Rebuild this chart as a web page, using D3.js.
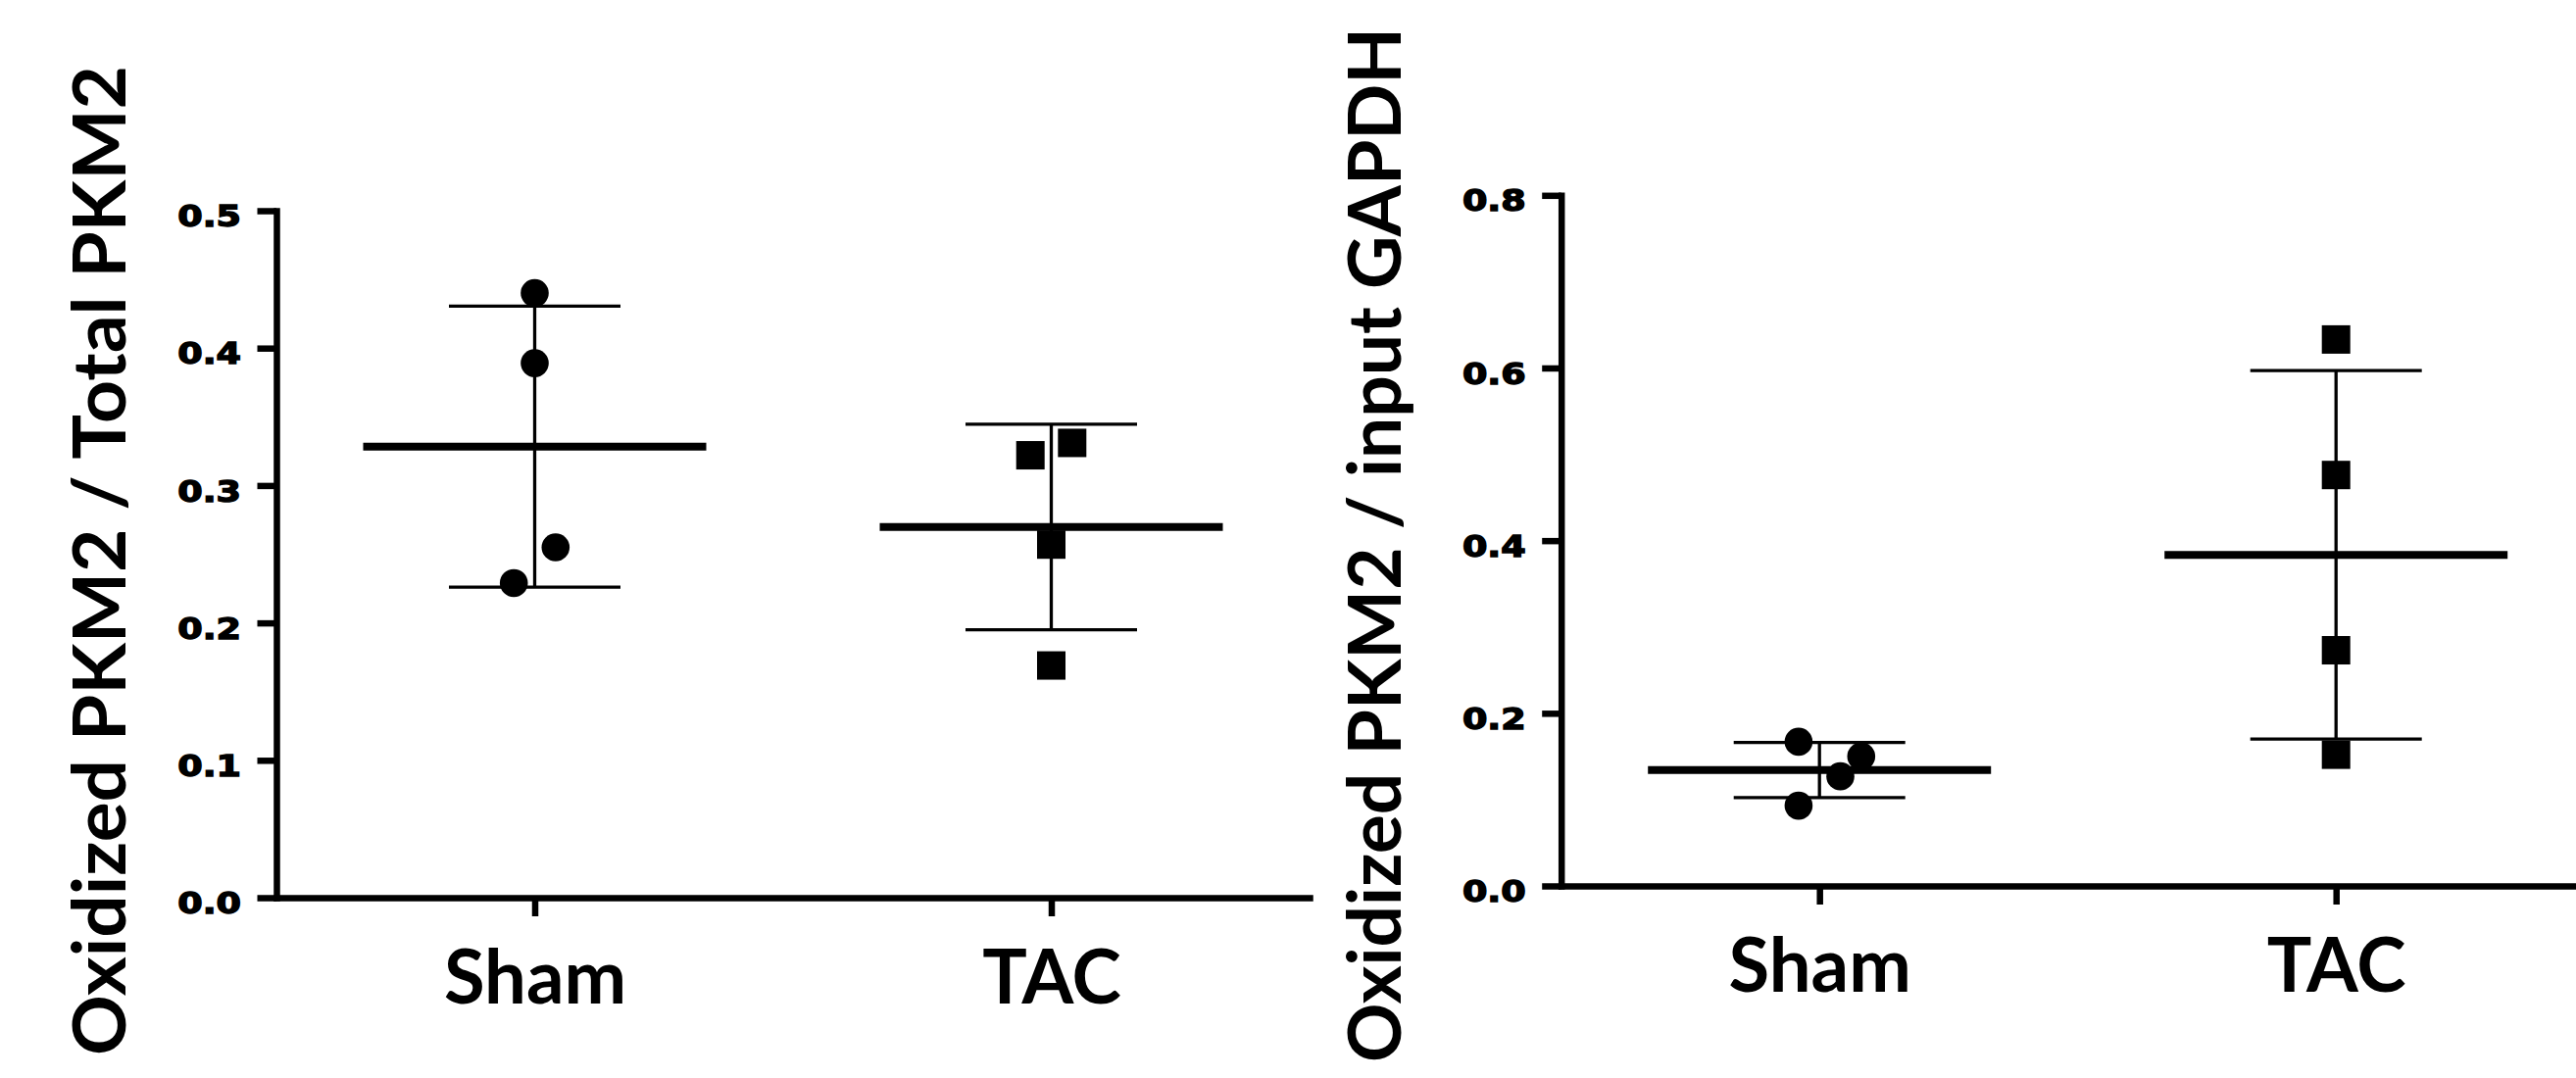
<!DOCTYPE html>
<html>
<head>
<meta charset="utf-8">
<script src="https://cdn.jsdelivr.net/npm/d3@7"></script>
<style>
  body { margin: 0; background: #fff; }
</style>
</head>
<body>
<svg id="chart"></svg>
<script>
const groups = ["Sham", "TAC"];

// Oxidized PKM2 / Total PKM2
const ratioSham = [0.440, 0.389, 0.255, 0.229];
const ratioTac = [0.322, 0.331, 0.257, 0.169];
const ratioTicks = [0, 0.1, 0.2, 0.3, 0.4, 0.5];

// Oxidized PKM2 / input GAPDH
const gapdhSham = [0.167, 0.150, 0.127, 0.093];
const gapdhTac = [0.633, 0.476, 0.273, 0.152];
const gapdhTicks = [0, 0.2, 0.4, 0.6, 0.8];

// sideways dodge of overlapping symbols (in slots), like the prism scatter
const ratioSlots = [[0, 0, 1, -1], [-1, 1, 0, 0]];
const gapdhSlots = [[-1, 2, 1, -1], [0, 0, 0, 0]];

class ScatterMeanSd {
  constructor(_config, _values, _slots) {
    this.config = {
      parentElement: _config.parentElement,
      axisX: _config.axisX,
      yTop: _config.yTop,
      yBottom: _config.yBottom,
      width: _config.width || 1054,
      yMax: _config.yMax,
      ticks: _config.ticks,
      title: _config.title,
      titleX: _config.titleX,
      titleY: _config.titleY,
      titleLength: _config.titleLength,
      symbols: _config.symbols,
      slotWidth: 21.3,
      meanHalf: 175,
      capHalf: 87.5,
    };
    this.values = _values;
    this.slots = _slots;
    this.initVis();
  }

  initVis() {
    let vis = this;
    const c = vis.config;

    vis.svg = d3.select(c.parentElement);
    vis.g = vis.svg.append("g");

    vis.y = d3.scaleLinear().domain([0, c.yMax]).range([c.yBottom, c.yTop]);
    vis.x = d3
      .scalePoint()
      .domain(groups)
      .range([c.axisX, c.axisX + c.width])
      .padding(0.5);

    // y axis
    vis.yAxisG = vis.g
      .append("g")
      .attr("transform", `translate(${c.axisX},0)`)
      .call(
        d3
          .axisLeft(vis.y)
          .tickValues(c.ticks)
          .tickFormat(d3.format(".1f"))
          .tickSize(19.5)
          .tickSizeOuter(0)
          .tickPadding(16),
      );

    // x axis
    vis.xAxisG = vis.g
      .append("g")
      .attr("transform", `translate(0,${c.yBottom})`)
      .call(d3.axisBottom(vis.x).tickSize(19).tickSizeOuter(0));

    vis.g.selectAll(".domain")
      .attr("stroke", "#000")
      .attr("stroke-width", 6.5)
      .attr("stroke-linecap", "square");
    vis.g.selectAll(".tick line").attr("stroke", "#000").attr("stroke-width", 6.5);

    // heavy, wide numerals like the original
    vis.yAxisG
      .selectAll(".tick text")
      .attr("fill", "#000")
      .attr("stroke", "#000")
      .attr("stroke-width", 1.4)
      .style("font-family", "'DejaVu Sans', sans-serif")
      .style("font-weight", "bold")
      .style("font-size", "30px")
      .attr("x", 0)
      .attr("dy", "0.52em")
      .attr("transform", "translate(-36,0) scale(1.22,1)");

    vis.xAxisG
      .selectAll(".tick text")
      .attr("fill", "#000")
      .style("font-family", "Lato, sans-serif")
      .style("font-weight", "bold")
      .style("font-size", "76px")
      .attr("y", 108)
      .attr("dy", 0);

    vis.g
      .append("text")
      .attr("text-anchor", "middle")
      .style("font-family", "Lato, sans-serif")
      .style("font-weight", "bold")
      .style("font-size", "75px")
      .attr("transform", `translate(${c.titleX},${c.titleY}) rotate(-90)`)
      .attr("textLength", c.titleLength)
      .attr("lengthAdjust", "spacingAndGlyphs")
      .text(c.title);

    vis.updateVis();
  }

  updateVis() {
    let vis = this;
    const c = vis.config;

    const stats = groups.map((name, i) => {
      const vals = vis.values[i];
      return {
        name: name,
        mean: d3.mean(vals),
        sd: d3.deviation(vals),
        points: vals.map((v, j) => ({ v: v, slot: vis.slots[i][j] })),
        symbol: c.symbols[i],
      };
    });

    const bars = vis.g.selectAll(".stat").data(stats).join("g").attr("class", "stat");

    bars
      .append("line")
      .attr("x1", (d) => vis.x(d.name))
      .attr("x2", (d) => vis.x(d.name))
      .attr("y1", (d) => vis.y(d.mean + d.sd))
      .attr("y2", (d) => vis.y(d.mean - d.sd))
      .attr("stroke", "#000")
      .attr("stroke-width", 3.3);

    bars
      .selectAll(".cap")
      .data((d) => [d.mean + d.sd, d.mean - d.sd].map((v) => ({ v: v, name: d.name })))
      .join("line")
      .attr("class", "cap")
      .attr("x1", (d) => vis.x(d.name) - c.capHalf)
      .attr("x2", (d) => vis.x(d.name) + c.capHalf)
      .attr("y1", (d) => vis.y(d.v))
      .attr("y2", (d) => vis.y(d.v))
      .attr("stroke", "#000")
      .attr("stroke-width", 3.3);

    bars
      .append("line")
      .attr("x1", (d) => vis.x(d.name) - c.meanHalf)
      .attr("x2", (d) => vis.x(d.name) + c.meanHalf)
      .attr("y1", (d) => vis.y(d.mean))
      .attr("y2", (d) => vis.y(d.mean))
      .attr("stroke", "#000")
      .attr("stroke-width", 8);

    bars.each(function (d) {
      const g = d3.select(this);
      const cx = (p) => vis.x(d.name) + p.slot * c.slotWidth;
      if (d.symbol == "circle") {
        g.selectAll("circle")
          .data(d.points)
          .join("circle")
          .attr("cx", cx)
          .attr("cy", (p) => vis.y(p.v))
          .attr("r", 14.3)
          .attr("fill", "#000");
      } else {
        g.selectAll("rect")
          .data(d.points)
          .join("rect")
          .attr("x", (p) => cx(p) - 14.5)
          .attr("y", (p) => vis.y(p.v) - 14.5)
          .attr("width", 29)
          .attr("height", 29)
          .attr("fill", "#000");
      }
    });
  }
}

d3.select("#chart").attr("width", 2628).attr("height", 1100);

new ScatterMeanSd(
  {
    parentElement: "#chart",
    axisX: 282,
    yTop: 215,
    yBottom: 916,
    yMax: 0.5,
    ticks: ratioTicks,
    title: "Oxidized PKM2 / Total PKM2",
    titleX: 128,
    titleY: 572,
    titleLength: 1010,
    symbols: ["circle", "square"],
  },
  [ratioSham, ratioTac],
  ratioSlots,
);

new ScatterMeanSd(
  {
    parentElement: "#chart",
    axisX: 1592.7,
    yTop: 199.3,
    yBottom: 904,
    yMax: 0.8,
    ticks: gapdhTicks,
    title: "Oxidized PKM2 / input GAPDH",
    titleX: 1429,
    titleY: 556,
    titleLength: 1056,
    symbols: ["circle", "square"],
  },
  [gapdhSham, gapdhTac],
  gapdhSlots,
);
</script>
</body>
</html>
